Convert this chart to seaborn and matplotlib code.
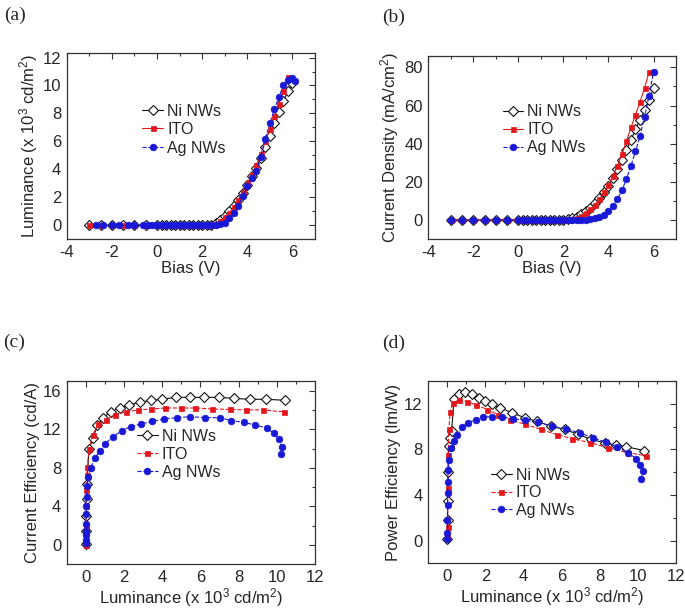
import matplotlib
matplotlib.use("Agg")
import matplotlib.pyplot as plt
import seaborn as sns
from matplotlib.ticker import MultipleLocator

# ---------------- data ----------------
series_names = ["Ni NWs", "ITO", "Ag NWs"]

# (a) luminance (x10^3 cd/m2) vs bias (V)
bias_ni_a = [-3, -2.5, -2, -1.5, -1, -0.5, 0, 0.2, 0.4, 0.6, 0.8, 1.0, 1.2, 1.4, 1.6, 1.8, 2.0, 2.2, 2.4,
             2.6, 2.8, 3.0, 3.2, 3.4, 3.6, 3.8, 4.0, 4.2, 4.4, 4.6, 4.8, 5.0, 5.2, 5.4, 5.6, 5.8, 6.0]
lum_ni_a = [0, 0, 0, 0, 0, 0, 0, 0, 0, 0, 0, 0, 0, 0, 0, 0, 0, 0.02, 0.05,
            0.15, 0.4, 0.7, 1.0, 1.4, 1.8, 2.3, 2.9, 3.5, 4.1, 4.8, 5.6, 6.4, 7.3, 8.1, 8.9, 9.6, 10.2]
bias_ito_a = [-3, -2.5, -2, -1.5, -1, -0.5, 0, 0.2, 0.4, 0.6, 0.8, 1.0, 1.2, 1.4, 1.6, 1.8, 2.0, 2.2, 2.4,
              2.6, 2.8, 3.0, 3.2, 3.4, 3.6, 3.8, 4.0, 4.2, 4.4, 4.6, 4.8, 5.0, 5.2, 5.4, 5.6, 5.8]
lum_ito_a = [0, 0, 0, 0, 0, 0, 0, 0, 0, 0, 0, 0, 0, 0, 0, 0, 0, 0.02, 0.05,
             0.1, 0.3, 0.6, 0.9, 1.3, 1.8, 2.4, 3.0, 3.6, 4.3, 5.1, 6.0, 6.9, 7.8, 8.7, 9.6, 10.6]
bias_ag_a = [-2.7, -2.4, -2.0, -1.7, -1.3, -1.0, -0.6, -0.4, -0.2, 0, 0.2, 0.4, 0.6, 0.8, 1.0, 1.2, 1.4,
             1.6, 1.8, 2.0, 2.2, 2.4, 2.6, 2.8, 3.0, 3.2, 3.4, 3.6, 3.8, 4.0, 4.2, 4.4, 4.6, 4.8, 5.0,
             5.2, 5.4, 5.6, 5.8, 6.0, 6.1]
lum_ag_a = [0, 0, 0, 0, 0, 0, 0, 0, 0, 0, 0, 0, 0, 0, 0, 0, 0, 0, 0, 0, 0, 0,
            0.02, 0.08, 0.2, 0.5, 0.9, 1.4, 2.1, 2.8, 3.4, 3.9, 4.9, 6.2, 7.3, 8.3, 9.2, 10.0, 10.4, 10.5, 10.35]

# (b) current density (mA/cm2) vs bias (V)
bias_ni_b = [-3, -2.5, -2, -1.5, -1, -0.5, 0, 0.2, 0.4, 0.6, 0.8, 1.0, 1.2, 1.4, 1.6, 1.8, 2.0, 2.2, 2.4,
             2.6, 2.8, 3.0, 3.2, 3.4, 3.6, 3.8, 4.0, 4.2, 4.4, 4.6, 4.8, 5.0, 5.2, 5.4, 5.6, 5.8, 6.0]
cur_ni_b = [0, 0, 0, 0, 0, 0, 0, 0, 0, 0, 0, 0, 0, 0, 0, 0, 0.2, 0.4, 0.8,
            1.5, 3.0, 4.5, 6.5, 9.0, 11.5, 14.5, 18.0, 22.0, 26.5, 31.5, 36.5, 42.0, 47.5, 52.5, 57.5, 63.0, 69.0]
bias_ito_b = [-3, -2.5, -2, -1.5, -1, -0.5, 0, 0.2, 0.4, 0.6, 0.8, 1.0, 1.2, 1.4, 1.6, 1.8, 2.0, 2.2, 2.4,
              2.6, 2.8, 3.0, 3.2, 3.4, 3.6, 3.8, 4.0, 4.2, 4.4, 4.6, 4.8, 5.0, 5.2, 5.4, 5.6, 5.8]
cur_ito_b = [0, 0, 0, 0, 0, 0, 0, 0, 0, 0, 0, 0, 0, 0, 0, 0.1, 0.2, 0.3, 0.5,
             1.0, 2.0, 3.5, 5.5, 8.0, 11.0, 14.5, 18.5, 23.0, 28.5, 34.5, 41.5, 48.5, 55.0, 62.0, 69.0, 77.5]
bias_ag_b = [-3, -2.5, -2, -1.5, -1, -0.5, 0, 0.2, 0.4, 0.6, 0.8, 1.0, 1.2, 1.4, 1.6, 1.8, 2.0, 2.2, 2.4,
             2.6, 2.8, 3.0, 3.2, 3.4, 3.6, 3.8, 4.0, 4.2, 4.4, 4.6, 4.8, 5.0, 5.2, 5.4, 5.6, 5.8, 6.0]
cur_ag_b = [0, 0, 0, 0, 0, 0, 0, 0, 0, 0, 0, 0, 0, 0, 0, 0, 0, 0, 0,
            0.05, 0.1, 0.2, 0.4, 0.8, 1.6, 2.8, 4.5, 7.3, 11.0, 15.5, 21.5, 28.5, 36.0, 44.0, 54.0, 65.0, 77.5]

# (c) current efficiency (cd/A) vs luminance (x10^3 cd/m2)
lum_ni_c = [0.0, 0.01, 0.02, 0.04, 0.06, 0.16, 0.38, 0.61, 0.92, 1.3, 1.79, 2.26, 2.82, 3.42, 4.0, 4.7,
            5.44, 6.17, 6.96, 7.74, 8.57, 9.44, 10.43]
ce_ni = [0.1, 1.5, 3.0, 4.8, 6.3, 9.9, 11.1, 12.4, 13.2, 13.8, 14.2, 14.5, 14.8, 15.0, 15.1, 15.3,
         15.3, 15.3, 15.3, 15.2, 15.1, 15.1, 15.0]
lum_ito_c = [0.0, 0.01, 0.02, 0.03, 0.05, 0.08, 0.18, 0.35, 0.66, 1.04, 1.51, 2.09, 2.73, 3.39, 4.17,
             4.96, 5.74, 6.61, 7.53, 8.4, 9.27, 10.38]
ce_ito = [0.0, 2.0, 4.0, 5.7, 7.3, 8.1, 10.0, 11.4, 12.5, 13.0, 13.5, 13.8, 14.0, 14.1, 14.2,
          14.2, 14.2, 14.1, 14.05, 14.0, 14.0, 13.8]
lum_ag_c = [0.0, 0.0, 0.0, 0.01, 0.01, 0.02, 0.03, 0.04, 0.07, 0.12, 0.26, 0.47, 0.73, 1.0, 1.42, 1.88,
            2.35, 2.87, 3.48, 4.09, 4.78, 5.48, 6.22, 7.0, 7.62, 8.26, 8.87, 9.48, 9.83, 10.09, 10.26, 10.22]
ce_ag = [0.2, 0.5, 1.0, 1.5, 2.2, 3.2, 4.0, 5.0, 6.1, 7.0, 8.0, 9.0, 9.7, 10.5, 11.2, 11.86,
         12.27, 12.55, 12.8, 13.07, 13.2, 13.3, 13.2, 13.2, 12.9, 12.7, 12.45, 12.1, 11.6, 11.0, 10.2, 9.44]

# (d) power efficiency (lm/W) vs luminance (x10^3 cd/m2)
lum_ni_d = [0.0, 0.01, 0.02, 0.04, 0.06, 0.12, 0.22, 0.35, 0.61, 0.95, 1.3, 1.65, 2.0, 2.35, 2.78, 3.39,
            4.08, 4.69, 5.44, 6.17, 6.87, 7.56, 8.26, 8.87, 9.39, 10.34]
pe_ni = [0.1, 1.8, 3.5, 6.0, 8.3, 9.0, 9.6, 12.38, 12.88, 13.05, 12.82, 12.53, 12.23, 12.0, 11.65, 11.21,
         10.77, 10.47, 10.03, 9.75, 9.31, 8.87, 8.58, 8.37, 8.23, 7.9]
lum_ito_d = [0.0, 0.01, 0.02, 0.04, 0.08, 0.15, 0.3, 0.62, 1.04, 1.51, 2.09, 2.66, 3.3, 4.08, 4.92,
             5.74, 6.52, 7.47, 8.43, 9.47, 10.43]
pe_ito = [0.3, 1.2, 4.6, 7.5, 9.8, 11.3, 12.1, 12.35, 12.2, 11.9, 11.5, 11.05, 10.6, 10.2, 9.75,
          9.3, 8.95, 8.6, 8.15, 7.7, 7.45]
lum_ag_d = [0.0, 0.0, 0.0, 0.01, 0.01, 0.02, 0.05, 0.1, 0.2, 0.35, 0.52, 0.78, 1.08, 1.48, 1.86, 2.35,
            2.87, 3.47, 4.08, 4.78, 5.48, 6.21, 6.95, 7.65, 8.35, 8.92, 9.47, 9.91, 10.12, 10.26, 10.17]
pe_ag = [0.1, 0.7, 1.8, 3.1, 4.2, 5.1, 6.2, 7.1, 8.1, 8.7, 9.3, 9.95, 10.33, 10.62, 10.86, 10.86,
         10.86, 10.7, 10.54, 10.39, 10.03, 9.8, 9.46, 9.0, 8.63, 8.2, 7.7, 7.2, 6.67, 6.08, 5.36]

# ---------------- style ----------------
sns.set_style("white")
plt.rcParams['font.family'] = ['Liberation Sans', 'DejaVu Sans']
plt.rcParams['mathtext.default'] = 'regular'
plt.rcParams['axes.unicode_minus'] = False
plt.rcParams['font.size'] = 12

BLACK = "#111111"
RED = "#e4161b"
BLUE = "#1818d6"

styles = {
    "Ni NWs": dict(color=BLACK, marker="D", markersize=5, markerfacecolor="white",
                   markeredgecolor=BLACK, markeredgewidth=0.8),
    "ITO": dict(color=RED, marker="s", markersize=3.6, markerfacecolor=RED,
                markeredgecolor=RED, markeredgewidth=0.5),
    "Ag NWs": dict(color=BLUE, marker="o", markersize=4.8, markerfacecolor=BLUE,
                   markeredgecolor=BLUE, markeredgewidth=0.5),
}

fig = plt.figure(figsize=(6.85, 6.08), dpi=100)
ax_a = fig.add_axes([0.0974, 0.6064, 0.3625, 0.3059])
ax_b = fig.add_axes([0.6253, 0.6069, 0.3616, 0.3010])
ax_c = fig.add_axes([0.0974, 0.0719, 0.3625, 0.3015])
ax_d = fig.add_axes([0.6253, 0.0735, 0.3616, 0.2998])


def draw(ax, xs, ys, dashes):
    for name, x, y, ls in zip(series_names, xs, ys, dashes):
        sns.lineplot(x=x, y=y, ax=ax, sort=False, estimator=None, label=name,
                     linewidth=0.8, linestyle=ls, **styles[name])


def finish(ax, xlim, ylim, xmaj, xmin, ymaj, ymin, xlabel, ylabel, leg_xy, spacing):
    ax.set_xlim(*xlim)
    ax.set_ylim(*ylim)
    ax.xaxis.set_major_locator(MultipleLocator(xmaj))
    ax.xaxis.set_minor_locator(MultipleLocator(xmin))
    ax.yaxis.set_major_locator(MultipleLocator(ymaj))
    ax.yaxis.set_minor_locator(MultipleLocator(ymin))
    ax.tick_params(which='both', direction='in', top=True, right=True, labelsize=12,
                   color='#333333', width=0.8)
    ax.tick_params(which='major', length=4, pad=4)
    ax.tick_params(which='minor', length=2.5)
    ax.set_xlabel(xlabel, fontsize=12, labelpad=1)
    ax.set_ylabel(ylabel, fontsize=12, labelpad=2)
    for s in ax.spines.values():
        s.set_color('#333333')
        s.set_linewidth(0.9)
    ax.legend(loc='upper left', bbox_to_anchor=leg_xy, frameon=False, fontsize=11.5,
              handlelength=1.3, handletextpad=0.25, labelspacing=spacing,
              borderpad=0, borderaxespad=0, numpoints=1)


draw(ax_a, [bias_ni_a, bias_ito_a, bias_ag_a], [lum_ni_a, lum_ito_a, lum_ag_a], ['-', '-', '--'])
finish(ax_a, (-4, 7), (-1, 12.3), 2, 1, 2, 1, "Bias (V)",
       "Luminance (x 10$^3$ cd/m$^2$)", (0.305, 0.73), 0.22)

draw(ax_b, [bias_ni_b, bias_ito_b, bias_ag_b], [cur_ni_b, cur_ito_b, cur_ag_b], ['-', '-', '--'])
finish(ax_b, (-4, 7), (-10, 86), 2, 1, 20, 10, "Bias (V)",
       "Current Density (mA/cm$^2$)", (0.30, 0.735), 0.18)

draw(ax_c, [lum_ni_c, lum_ito_c, lum_ag_c], [ce_ni, ce_ito, ce_ag], ['-', '--', '--'])
finish(ax_c, (-1, 12), (-2, 17), 2, 1, 4, 2, "Luminance (x 10$^3$ cd/m$^2$)",
       "Current Efficiency (cd/A)", (0.283, 0.74), 0.2)

draw(ax_d, [lum_ni_d, lum_ito_d, lum_ag_d], [pe_ni, pe_ito, pe_ag], ['-', '--', '--'])
finish(ax_d, (-1, 12), (-2, 14), 2, 1, 4, 2, "Luminance (x 10$^3$ cd/m$^2$)",
       "Power Efficiency (lm/W)", (0.253, 0.525), 0.16)

# panel letters
for lbl, x, y in [("(a)", 0.006, 0.975), ("(b)", 0.558, 0.972),
                  ("(c)", 0.004, 0.437), ("(d)", 0.558, 0.435)]:
    fig.text(x, y, lbl, family=['Liberation Serif', 'DejaVu Serif'], fontsize=14, va='center')

fig.savefig("out.png", dpi=100)
